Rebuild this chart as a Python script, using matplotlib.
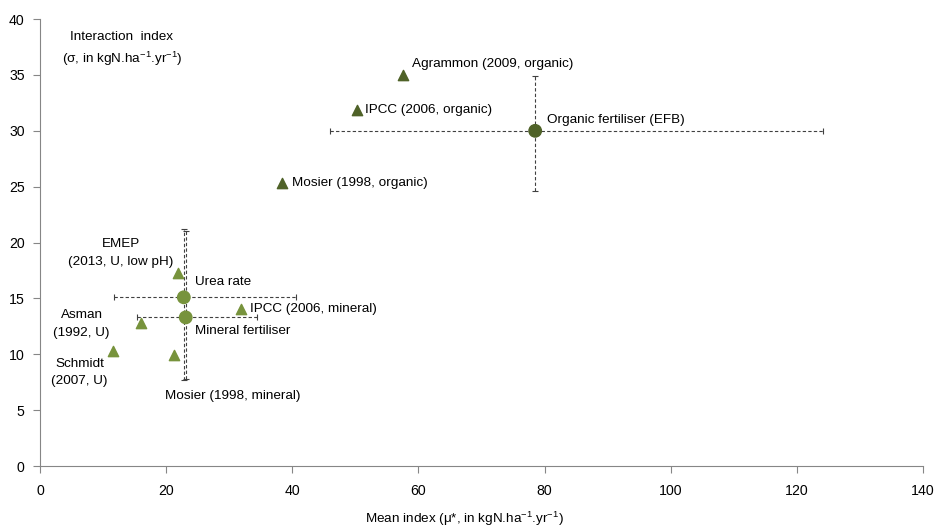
import matplotlib
matplotlib.use("Agg")
import matplotlib.pyplot as plt

plt.rcParams["font.family"] = ["Liberation Sans", "DejaVu Sans"]

# literature estimates (triangles)
org_names = ["Agrammon (2009, organic)", "IPCC (2006, organic)", "Mosier (1998, organic)"]
org_mu = [57.6, 50.3, 38.4]
org_sigma = [35.0, 31.9, 25.3]

min_names = ["EMEP\n(2013, U, low pH)", "IPCC (2006, mineral)", "Asman\n(1992, U)",
             "Schmidt\n(2007, U)", "Mosier (1998, mineral)"]
min_mu = [21.9, 31.9, 16.0, 11.6, 21.2]
min_sigma = [17.3, 14.05, 12.8, 10.3, 9.9]

# model results (circles with ranges)
mod_names = ["Organic fertiliser (EFB)", "Urea rate", "Mineral fertiliser"]
mod_mu = [78.5, 22.8, 23.1]
mod_sigma = [30.0, 15.1, 13.3]
mod_mu_lo = [46.0, 11.7, 15.4]
mod_mu_hi = [124.1, 40.6, 34.4]
mod_sig_lo = [24.6, 7.7, 7.8]
mod_sig_hi = [34.9, 21.2, 21.0]

dark = "#4f6228"
light = "#77933c"

fig = plt.figure(figsize=(9.41, 5.31), dpi=100)
ax = fig.add_axes([0.0425, 0.1224, 0.9385, 0.8416])

# error bars
for i in range(3):
    xerr = [[mod_mu[i] - mod_mu_lo[i]], [mod_mu_hi[i] - mod_mu[i]]]
    yerr = [[mod_sigma[i] - mod_sig_lo[i]], [mod_sig_hi[i] - mod_sigma[i]]]
    eb = ax.errorbar([mod_mu[i]], [mod_sigma[i]], xerr=xerr, yerr=yerr, fmt="none",
                     ecolor="#404040", elinewidth=0.8, capsize=2.5, capthick=0.8, zorder=2)
    for lc in eb[2]:
        lc.set_linestyle((0, (3, 2)))

ax.scatter(org_mu, org_sigma, marker="^", s=55, color=dark, zorder=3)
ax.scatter(min_mu, min_sigma, marker="^", s=55, color=light, zorder=3)
ax.scatter(mod_mu, mod_sigma, marker="o", s=80, color=[dark, light, light], zorder=4)

fs = 9.7
ls = 1.6
# labels
ax.text(58.9, 36.0, org_names[0], fontsize=fs, ha="left", va="center")
ax.text(51.6, 31.9, org_names[1], fontsize=fs, ha="left", va="center")
ax.text(40.0, 25.3, org_names[2], fontsize=fs, ha="left", va="center")
ax.text(80.3, 31.0, mod_names[0], fontsize=fs, ha="left", va="center")
ax.text(24.5, 16.5, mod_names[1], fontsize=fs, ha="left", va="center")
ax.text(24.5, 12.1, mod_names[2], fontsize=fs, ha="left", va="center")
ax.text(12.8, 19.06, min_names[0], fontsize=fs, ha="center", va="center", linespacing=ls)
ax.text(33.3, 14.05, min_names[1], fontsize=fs, ha="left", va="center")
ax.text(6.6, 12.7, min_names[2], fontsize=fs, ha="center", va="center", linespacing=ls)
ax.text(6.3, 8.37, min_names[3], fontsize=fs, ha="center", va="center", linespacing=ls)
ax.text(19.8, 6.3, min_names[4], fontsize=fs, ha="left", va="center")

ax.text(13.0, 37.3, "Interaction  index\n(σ, in kgN.ha$^{\\mathregular{-1}}$.yr$^{\\mathregular{-1}}$)",
        fontsize=fs, ha="center", va="center", linespacing=1.5)

ax.set_xlim(0, 140)
ax.set_ylim(0, 40)
ax.set_xticks(range(0, 141, 20))
ax.set_yticks(range(0, 41, 5))
fig.text(0.4935, 0.022, "Mean index (μ*, in kgN.ha$^{\\mathregular{-1}}$.yr$^{\\mathregular{-1}}$)",
         fontsize=fs, ha="center", va="center")

for s in ["top", "right"]:
    ax.spines[s].set_visible(False)
for s in ["left", "bottom"]:
    ax.spines[s].set_color("#868686")
ax.tick_params(colors="#868686", labelcolor="black", labelsize=fs + 0.5, length=5)
ax.tick_params(axis="x", pad=8)
ax.tick_params(axis="y", pad=6)

fig.savefig("out.png", dpi=100)
